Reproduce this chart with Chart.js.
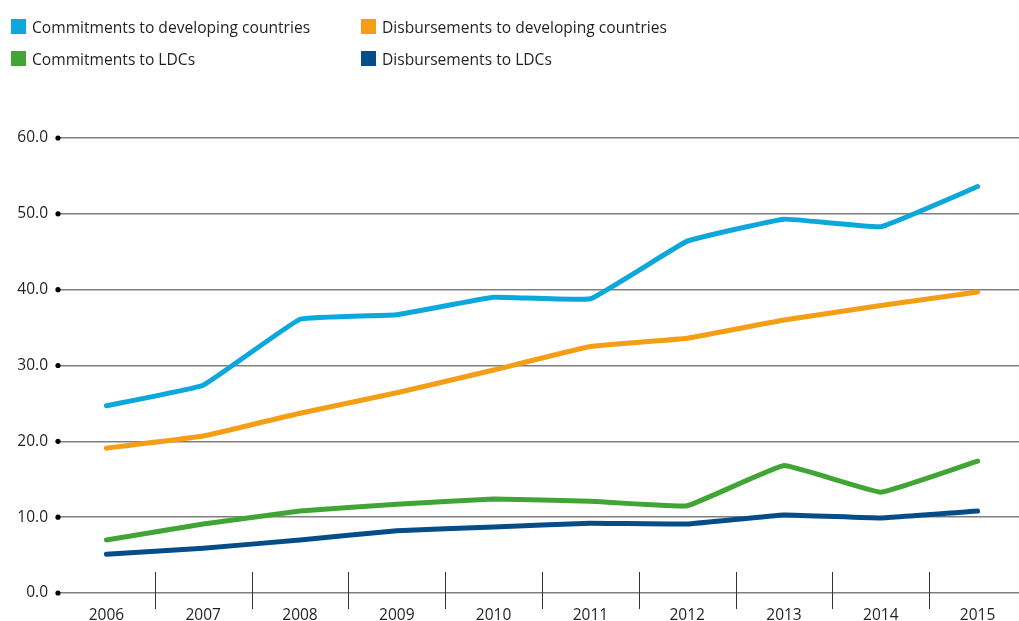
<!DOCTYPE html>
<html>
<head>
<meta charset="utf-8">
<script src="https://cdn.jsdelivr.net/npm/chart.js@4.4.1/dist/chart.umd.min.js"></script>
<style>
  html, body { margin: 0; padding: 0; background: #fff; overflow: hidden; }
  #wrap { position: relative; width: 1019px; height: 621px; overflow: hidden; }
  #legend { position: absolute; left: 0; top: 0; font-family: "Open Sans", sans-serif; font-size: 15.6px; color: #231f20; }
  .item { position: absolute; white-space: nowrap; }
  .sw { position: absolute; width: 15px; height: 15px; }
  .lbl { position: absolute; line-height: 18px; }
  canvas { position: absolute; left: 0; top: 0; }
</style>
</head>
<body>
<div id="wrap">
  <canvas id="chart" width="1026" height="621"></canvas>
  <div id="legend"></div>
</div>
<script>
// Datos (miles de millones)
const years = ['2006', '2007', '2008', '2009', '2010', '2011', '2012', '2013', '2014', '2015'];
const commitmentsDev = [24.7, 27.4, 36.1, 36.7, 39.0, 38.8, 46.4, 49.3, 48.3, 53.6];
const disbursementsDev = [19.1, 20.7, 23.7, 26.4, 29.4, 32.5, 33.6, 36.0, 37.9, 39.7];
const commitmentsLdc = [7.0, 9.1, 10.8, 11.7, 12.4, 12.1, 11.5, 16.8, 13.3, 17.4];
const disbursementsLdc = [5.1, 5.9, 7.0, 8.2, 8.7, 9.2, 9.1, 10.3, 9.9, 10.8];
const yTicks = [0, 10, 20, 30, 40, 50, 60];

const series = [
    {label: 'Commitments to developing countries', data: commitmentsDev, color: '#0ca8db', lx: 11, ly: 19},
    {label: 'Disbursements to developing countries', data: disbursementsDev, color: '#f49e16', lx: 361, ly: 19},
    {label: 'Commitments to LDCs', data: commitmentsLdc, color: '#40a535', lx: 11, ly: 51},
    {label: 'Disbursements to LDCs', data: disbursementsLdc, color: '#064d87', lx: 361, ly: 51}
];

// Leyenda en HTML
const legend = document.getElementById('legend');
series.forEach(s => {
    const it = document.createElement('div');
    it.className = 'item';
    it.style.left = s.lx + 'px';
    it.style.top = s.ly + 'px';
    it.innerHTML = `<span class="sw" style="left:0;top:0;background:${s.color}"></span>` +
        `<span class="lbl" style="left:21px;top:-1px">${s.label}</span>`;
    legend.appendChild(it);
});

// Puntos en el eje Y y separadores del eje X
const decorations = {
    id: 'decorations',
    afterDraw(chart) {
        const {ctx, scales: {x, y}} = chart;
        const left = chart.chartArea.left;
        ctx.save();
        ctx.fillStyle = '#000';
        yTicks.forEach(v => {
            ctx.beginPath();
            ctx.arc(left, y.getPixelForValue(v), 2.6, 0, Math.PI * 2);
            ctx.fill();
        });
        const base = y.getPixelForValue(0);
        ctx.strokeStyle = '#333';
        ctx.lineWidth = 1;
        for (let i = 0; i < years.length - 1; i++) {
            const px = Math.round((x.getPixelForValue(i) + x.getPixelForValue(i + 1)) / 2) + 0.5;
            ctx.beginPath();
            ctx.moveTo(px, base - 21);
            ctx.lineTo(px, base + 16);
            ctx.stroke();
        }
        ctx.restore();
    }
};

const config = {
    type: 'line',
    data: {
        labels: years,
        datasets: series.map(s => ({
            label: s.label,
            data: s.data,
            borderColor: s.color,
            backgroundColor: s.color,
            borderWidth: 5,
            pointRadius: 0,
            borderCapStyle: 'round',
            borderJoinStyle: 'round',
            tension: 0.08
        }))
    },
    options: {
        responsive: false,
        animation: false,
        layout: {padding: {top: 138, right: 0, left: 0, bottom: 0}},
        plugins: {
            legend: {display: false},
            tooltip: {enabled: false}
        },
        scales: {
            x: {
                offset: true,
                afterFit(scale) { scale.height = 28; },
                grid: {display: false},
                border: {display: false},
                ticks: {
                    color: '#231f20',
                    font: {family: 'Open Sans', size: 15.5},
                    padding: 5
                }
            },
            y: {
                min: 0,
                max: 60,
                afterFit(scale) { scale.width = 58; },
                afterBuildTicks(scale) { scale.ticks = yTicks.map(v => ({value: v})); },
                grid: {color: '#7f7f7f', lineWidth: 1.5, drawTicks: false},
                border: {display: false},
                ticks: {
                    color: '#231f20',
                    font: {family: 'Open Sans', size: 15.5},
                    padding: 10,
                    callback: v => v.toFixed(1)
                }
            }
        }
    },
    plugins: [decorations]
};

const ctx = document.getElementById('chart').getContext('2d');
new Chart(ctx, config);
</script>
</body>
</html>
